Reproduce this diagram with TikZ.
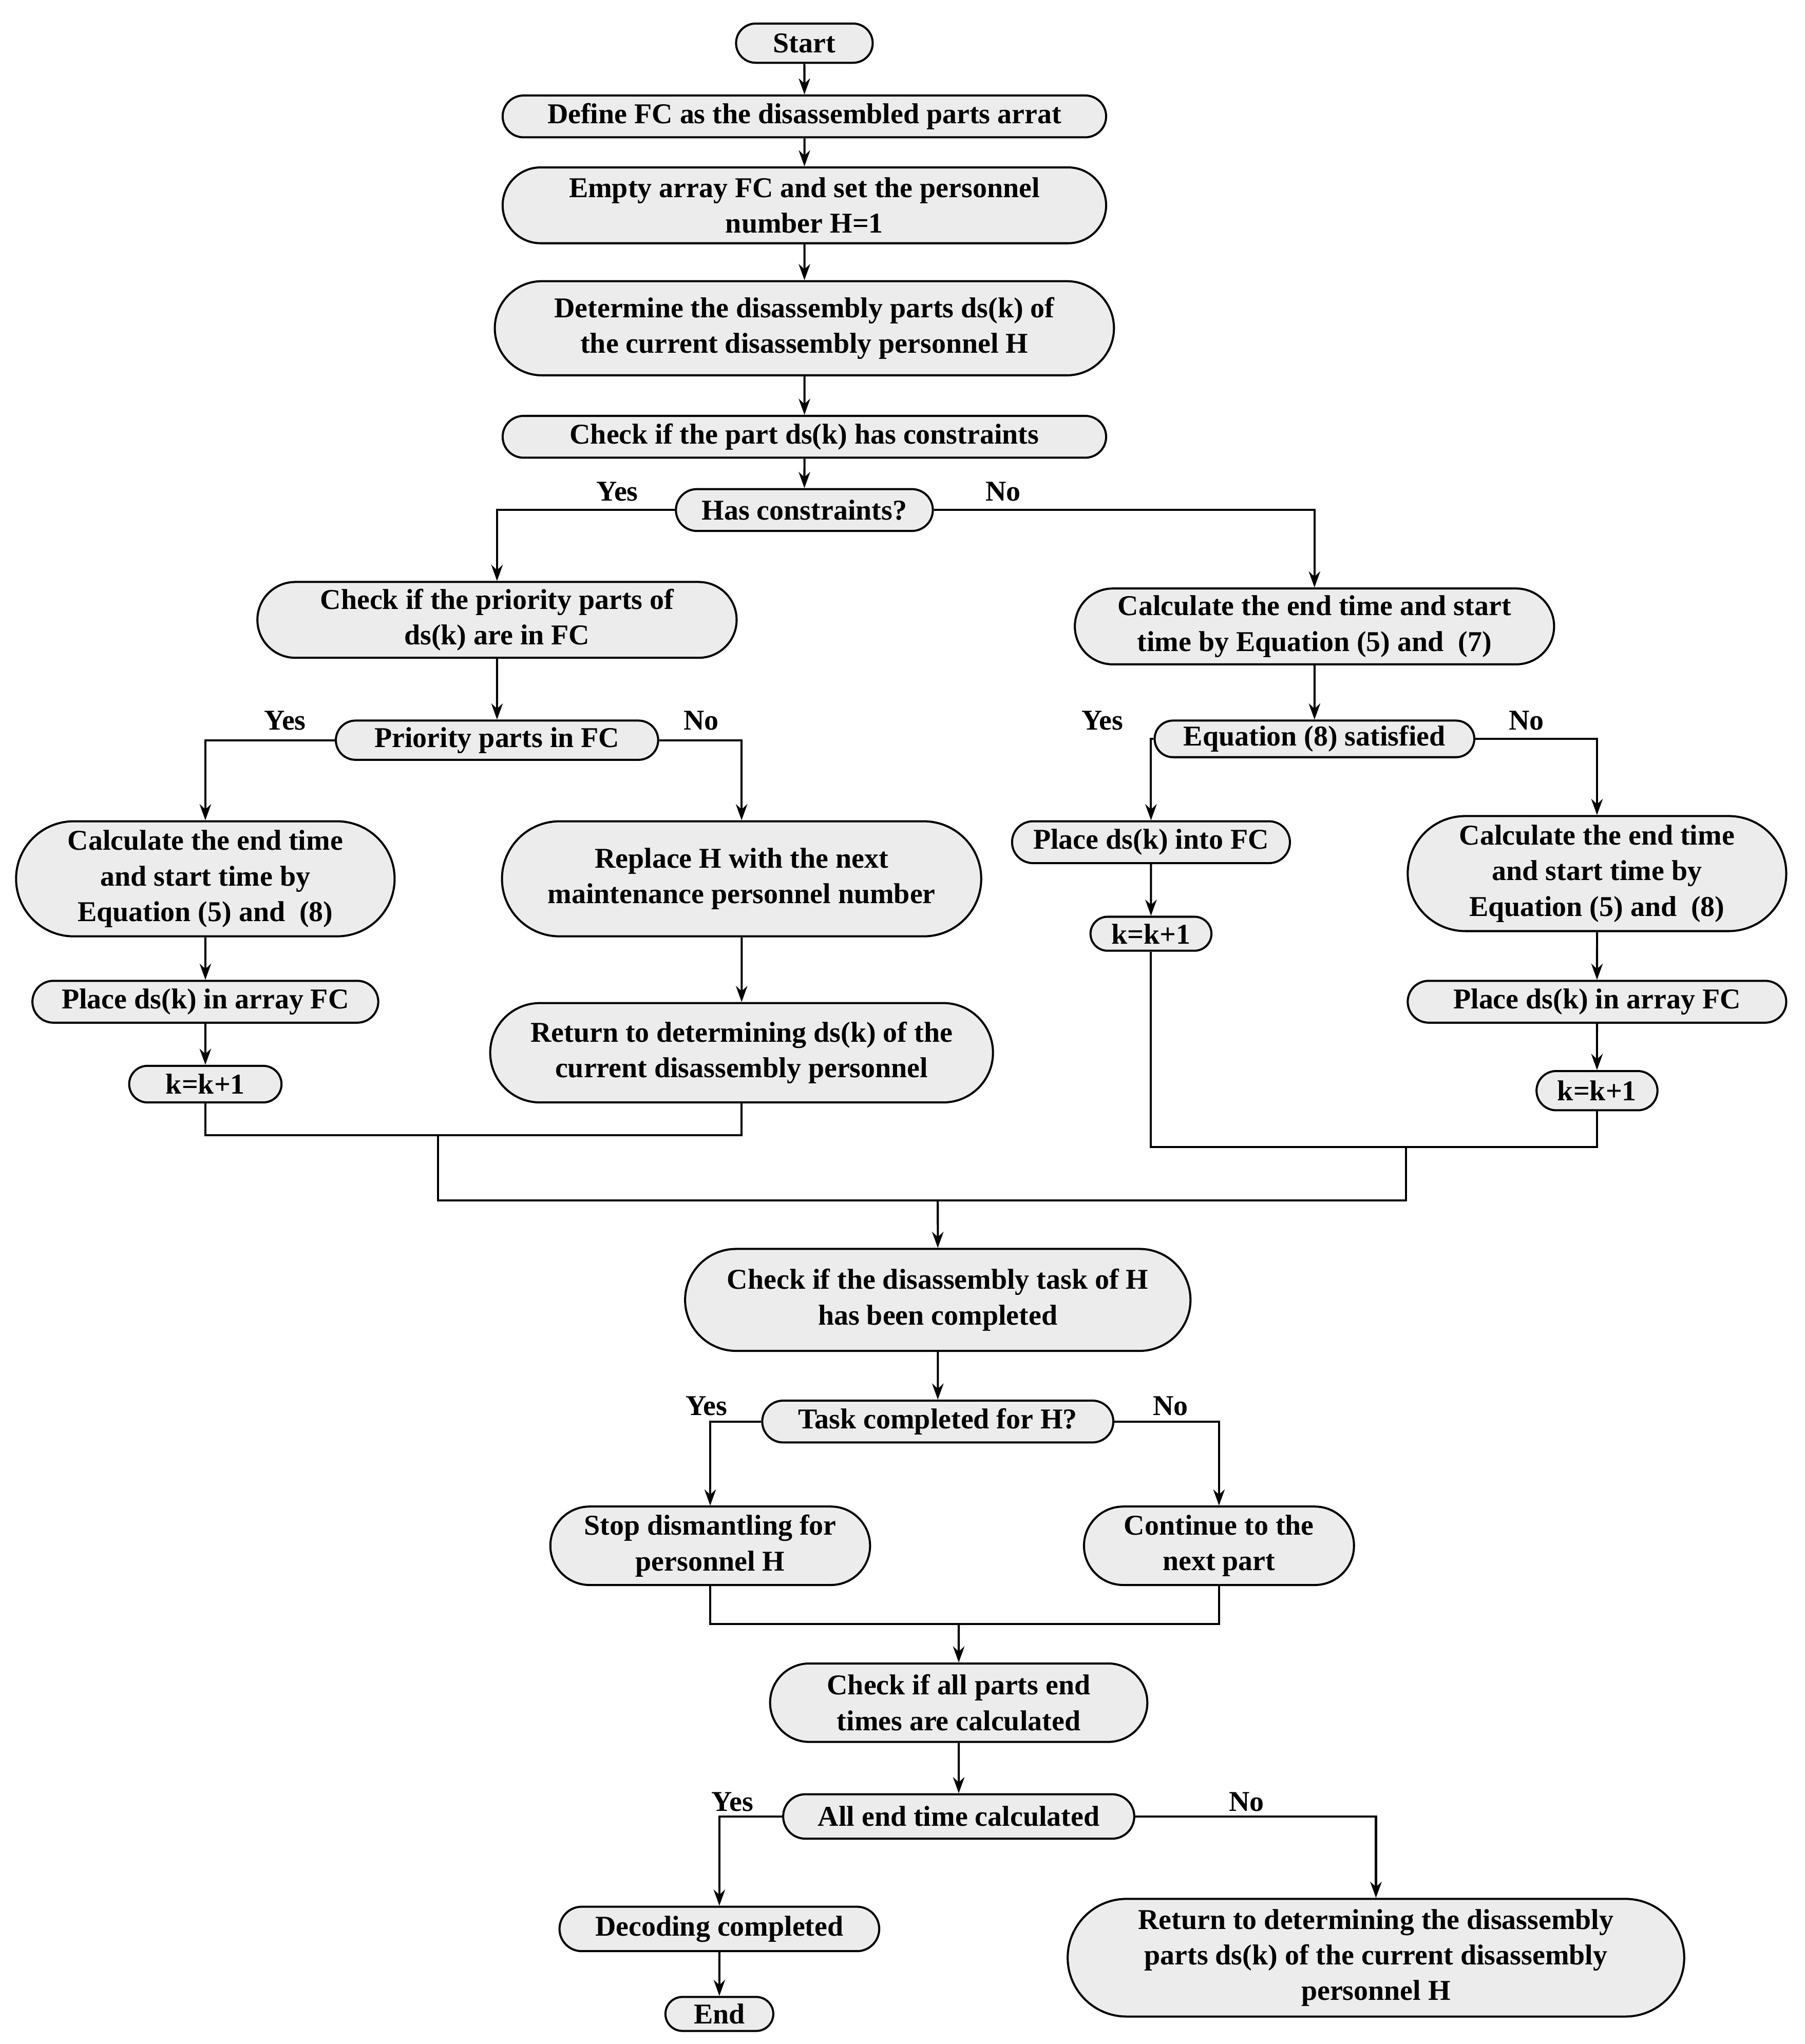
\documentclass[tikz,border=0pt]{standalone}
\usepackage{fontspec}
\setmainfont{Liberation Serif}
\usetikzlibrary{shapes.misc,arrows.meta}
\begin{document}
\begin{tikzpicture}[x=0.02cm, y=-0.02cm, line width=0.9pt,
    box/.style={rounded rectangle, draw, fill=gray!15, align=center, inner sep=1pt,
      font=\fontsize{12.5}{15.5}\selectfont\bfseries},
    lbl/.style={font=\fontsize{12.5}{15}\selectfont\bfseries, inner sep=0pt},
    arr/.style={-{Stealth[length=7pt,width=5pt]}}]
    % Bounding area
    \useasboundingbox (0,0) rectangle (1380,1563);

    % Main column
    \node[box, minimum width=2.16cm, minimum height=0.6cm] (start) at (615,33) {Start};
    \node[box, minimum width=9.3cm, minimum height=0.64cm] (define) at (615,89) {Define FC as the disassembled parts arrat};
    \node[box, minimum width=9.3cm, minimum height=1.16cm] (empty) at (615,157) {Empty array FC and set the personnel\\number H=1};
    \node[box, minimum width=9.54cm, minimum height=1.44cm] (determine) at (615,251) {Determine the disassembly parts ds(k) of\\the current disassembly personnel H};
    \node[box, minimum width=9.3cm, minimum height=0.64cm] (check) at (615,334) {Check if the part ds(k) has constraints};
    \node[box, minimum width=4cm, minimum height=0.64cm] (has) at (615,390) {Has constraints?};

    % Left branch
    \node[box, minimum width=7.4cm, minimum height=1.16cm] (prio) at (380,474) {Check if the priority parts of\\ds(k) are in FC};
    \node[box, minimum width=5cm, minimum height=0.6cm] (pin) at (380,566) {Priority parts in FC};
    \node[box, minimum width=5.86cm, minimum height=1.76cm] (calcL) at (157,672) {Calculate the end time\\and start time by\\Equation (5) and~ (8)};
    \node[box, minimum width=5.36cm, minimum height=0.64cm] (placeL) at (157,766) {Place ds(k) in array FC};
    \node[box, minimum width=2.4cm, minimum height=0.56cm] (kL) at (157,829) {k=k+1};
    \node[box, minimum width=7.4cm, minimum height=1.76cm] (replace) at (567,672) {Replace H with the next\\maintenance personnel number};
    \node[box, minimum width=7.76cm, minimum height=1.52cm] (returnM) at (567,805) {Return to determining ds(k) of the\\current disassembly personnel};

    % Right branch
    \node[box, minimum width=7.4cm, minimum height=1.16cm] (calc1) at (1005,479) {Calculate the end time and start\\time by Equation (5) and~ (7)};
    \node[box, minimum width=4.96cm, minimum height=0.56cm] (eq8) at (1005,565) {Equation (8) satisfied};
    \node[box, minimum width=4.32cm, minimum height=0.64cm] (placeR) at (880,644) {Place ds(k) into FC};
    \node[box, minimum width=1.92cm, minimum height=0.52cm] (kR) at (880,714) {k=k+1};
    \node[box, minimum width=5.86cm, minimum height=1.76cm] (calcR) at (1221,668) {Calculate the end time\\and start time by\\Equation (5) and~ (8)};
    \node[box, minimum width=5.86cm, minimum height=0.64cm] (placeRR) at (1221,766) {Place ds(k) in array FC};
    \node[box, minimum width=1.92cm, minimum height=0.6cm] (kRR) at (1221,834) {k=k+1};

    % Lower part
    \coordinate (join) at (717,918);
    \node[box, minimum width=7.8cm, minimum height=1.56cm] (taskchk) at (717,994) {Check if the disassembly task of H\\has been completed};
    \node[box, minimum width=5.44cm, minimum height=0.64cm] (taskq) at (717,1087) {Task completed for H?};
    \node[box, minimum width=4.96cm, minimum height=1.2cm] (stop) at (543,1182) {Stop dismantling for\\personnel H};
    \node[box, minimum width=4.2cm, minimum height=1.2cm] (cont) at (932,1182) {Continue to the\\next part};
    \coordinate (join2) at (733,1242);
    \node[box, minimum width=5.84cm, minimum height=1.2cm] (allchk) at (733,1302) {Check if all parts end\\times are calculated};
    \node[box, minimum width=5.44cm, minimum height=0.68cm] (allq) at (733,1389) {All end time calculated};
    \node[box, minimum width=4.96cm, minimum height=0.68cm] (decod) at (550,1475) {Decoding completed};
    \node[box, minimum width=1.72cm, minimum height=0.52cm] (end) at (550,1540) {End};
    \node[box, minimum width=9.5cm, minimum height=1.8cm] (return2) at (1052,1497) {Return to determining the disassembly\\parts ds(k) of the current disassembly\\personnel H};

    % Labels
    \node[lbl] (y1) at (472,376) {Yes};
    \node[lbl] (n1) at (767,376) {No};
    \node[lbl] (y2) at (218,551) {Yes};
    \node[lbl] (n2) at (536,551) {No};
    \node[lbl] (y3) at (843,551) {Yes};
    \node[lbl] (n3) at (1167,551) {No};
    \node[lbl] (y4) at (540,1075) {Yes};
    \node[lbl] (n4) at (895,1075) {No};
    \node[lbl] (y5) at (560,1378) {Yes};
    \node[lbl] (n5) at (953,1378) {No};

    % Straight arrows
    \foreach \a/\b in {start/define, define/empty, empty/determine, determine/check,
      check/has, prio/pin, calcL/placeL, placeL/kL, replace/returnM, calc1/eq8,
      placeR/kR, calcR/placeRR, placeRR/kRR, taskchk/taskq, allchk/allq, decod/end}
      \draw[arr] (\a) -- (\b);

    % Branches
    \draw[arr] (has.west) -| (prio.north);
    \draw[arr] (has.east) -| (calc1.north);
    \draw[arr] (pin.west) -| (calcL.north);
    \draw[arr] (pin.east) -| (replace.north);
    \draw[arr] (eq8.west) -| (placeR.north);
    \draw[arr] (eq8.east) -| (calcR.north);
    \draw[arr] (taskq.west) -| (stop.north);
    \draw[arr] (taskq.east) -| (cont.north);
    \draw[arr] (allq.west) -| (decod.north);
    \draw[arr] (allq.east) -| (return2.north);

    % Merging lines
    \draw (kL.south) |- (567,868) -- (returnM.south);
    \draw (kR.south) |- (1221,877) -- (kRR.south);
    \draw (335,868) |- (1075,918) -- (1075,877);
    \draw[arr] (join) -- (taskchk);
    \draw (stop.south) |- (cont.south |- join2) -- (cont.south);
    \draw[arr] (join2) -- (allchk);
\end{tikzpicture}
\end{document}
